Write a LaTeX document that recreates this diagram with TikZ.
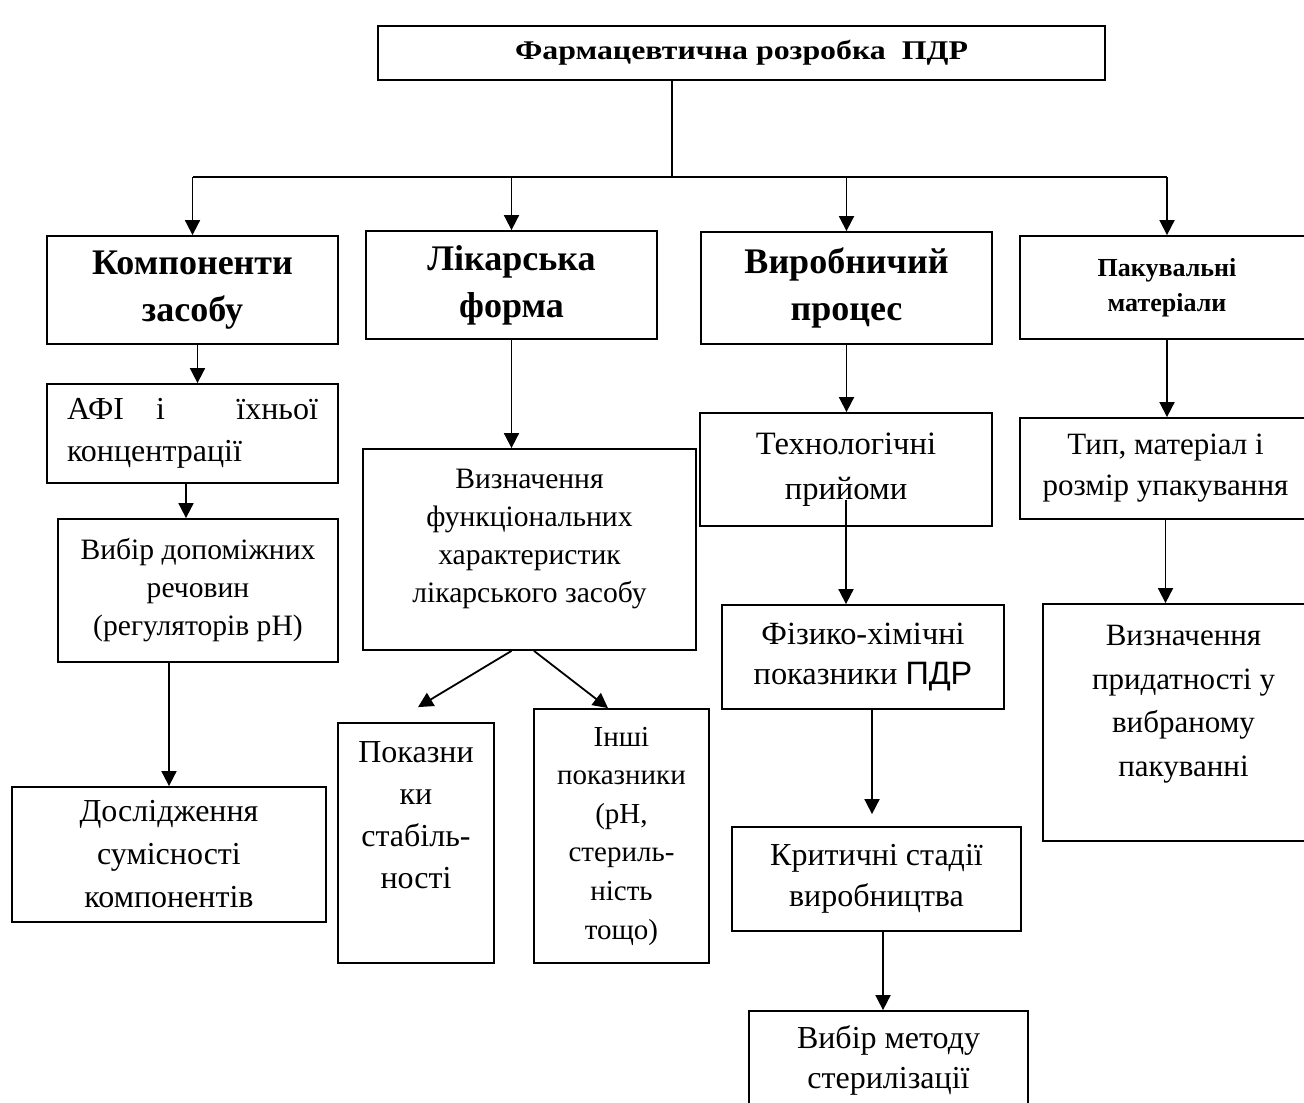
\documentclass[tikz,border=0pt]{standalone}
\usepackage{fontspec}
\setmainfont{Liberation Serif}
\newfontfamily\sansfont{Liberation Sans}
\usetikzlibrary{arrows.meta,calc}

\begin{document}
\begin{tikzpicture}[x=0.5pt, y=-0.5pt,
    box/.style={draw, line width=0.9pt, inner sep=0pt, align=center},
    wh/.style 2 args={minimum width=#1*0.5pt, minimum height=#2*0.5pt},
    head/.style={font=\fontsize{18}{23.5}\selectfont\bfseries},
    arr/.style={line width=0.9pt, -{Triangle[length=7.5pt, width=7.5pt]}}]
    \clip (0,0) rectangle (1304,1102);
    % Top
    \node[box, wh={727}{54}, font=\fontsize{13.5}{16}\selectfont\bfseries\addfontfeatures{FakeStretch=1.18}] (title) at (741.5,53) {Фармацевтична розробка\ \ ПДР};
    \coordinate (split) at (672,177);
    % First level
    \node[box, wh={291}{108}, head] (comp) at (192.5,290) {Компоненти\\засобу};
    \node[box, wh={291}{108}, head] (form) at (511.5,285) {Лікарська\\форма};
    \node[box, wh={291}{112}, head] (proc) at (846.5,288) {Виробничий\\процес};
    \node[box, wh={294}{103}, font=\fontsize{13}{17.5}\selectfont\bfseries] (pack) at (1167,287.5) {Пакувальні\\матеріали};
    \draw[line width=0.9pt] (split |- title.south) -- (split);
    \draw[line width=0.9pt] (comp.north |- split) -- (pack.north |- split);
    \foreach \n in {comp,form,proc,pack}
        \draw[arr] (\n.north |- split) -- (\n.north);
    % Column 1
    \node[box, wh={291}{99}, text width=125.5pt, align=left, font=\fontsize{16}{21}\selectfont] (afi) at (192.5,433.5) {АФІ\hspace{16pt}і\hfill їхньої\\концентрації};
    \node[box, wh={280}{143}, font=\fontsize{14.8}{19}\selectfont] (vybir) at (198,590.5) {Вибір допоміжних\\речовин\\(регуляторів pH)};
    \node[box, wh={314}{135}, font=\fontsize{16}{21.5}\selectfont] (dosl) at (169,854.5) {Дослідження\\сумісності\\компонентів};
    \draw[arr] ([xshift=2.5pt]comp.south) -- ([xshift=2.5pt]comp.south |- afi.north);
    \draw[arr] ([xshift=-3.25pt]afi.south) -- ([xshift=-3.25pt]afi.south |- vybir.north);
    \draw[arr] (vybir.south -| dosl.north) -- (dosl.north);
    % Column 2
    \node[box, wh={333}{201}, font=\fontsize{14.8}{19}\selectfont] (func) at (529.5,549.5) {Визначення\\функціональних\\характеристик\\лікарського засобу\\[-5pt]\mbox{}};
    \node[box, wh={156}{240}, font=\fontsize{16}{21}\selectfont] (stab) at (416,843) {Показни\\ки\\стабіль-\\ності\\[7pt]\mbox{}};
    \node[box, wh={175}{254}, font=\fontsize{14.5}{19.3}\selectfont] (inshi) at (621.5,836) {Інші\\показники\\(pH,\\стериль-\\ність\\тощо)};
    \draw[arr] (form.south) -- (form.south |- func.north);
    \draw[arr] ([xshift=-9pt]func.south) -- ($(stab.north)+(2,-15)$);
    \draw[arr] ([xshift=2.25pt]func.south) -- ($(inshi.north)+(-13.5,0)$);
    % Column 3
    \node[box, wh={292}{113}, font=\fontsize{16.3}{22.5}\selectfont] (tech) at (846,469.5) {Технологічні\\прийоми};
    \node[box, wh={282}{104}, font=\fontsize{16.2}{20}\selectfont] (fiz) at (863,657) {Фізико-хімічні\\показники {\sansfont ПДР}};
    \node[box, wh={289}{104}, font=\fontsize{16}{20.5}\selectfont] (crit) at (876.5,879) {Критичні стадії\\виробництва};
    \node[box, wh={279}{99}, font=\fontsize{16}{20}\selectfont] (ster) at (888.5,1060.5) {Вибір методу\\стерилізації};
    \draw[arr] (proc.south) -- (proc.south |- tech.north);
    \draw[arr] ($(tech.south)+(0,-27)$) -- (tech.south |- fiz.north);
    \draw[arr, shorten >=6pt] ([xshift=4.5pt]fiz.south) -- ([xshift=-2.25pt]crit.north);
    \draw[arr] ([xshift=3.25pt]crit.south) -- ([xshift=-2.75pt]ster.north);
    % Column 4
    \node[box, wh={291}{101}, font=\fontsize{15.5}{20.5}\selectfont] (tip) at (1165.5,468.5) {Тип, матеріал і\\розмір упакування};
    \node[box, wh={281}{237}, font=\fontsize{15.5}{21.75}\selectfont] (prid) at (1183.5,722.5) {Визначення\\придатності у\\вибраному\\пакуванні\\\mbox{}};
    \draw[arr] (pack.south) -- (pack.south |- tip.north);
    \draw[arr] (tip.south) -- (tip.south |- prid.north);
\end{tikzpicture}
\end{document}
